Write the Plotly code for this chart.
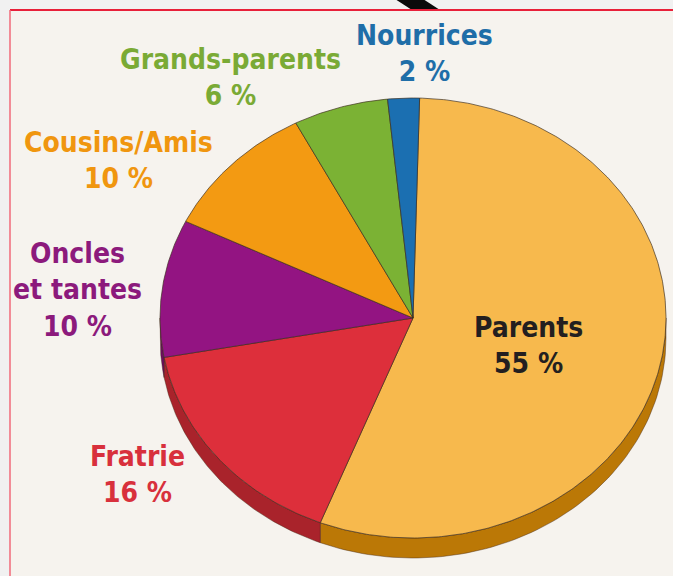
import numpy as np
import plotly.graph_objects as go

# Who looks after the children – share of answers
categories = ["Parents", "Fratrie", "Oncles et tantes", "Cousins/Amis", "Grands-parents", "Nourrices"]
values = [55, 16, 10, 10, 6, 2]
label_lines = ["Parents", "Fratrie", "Oncles<br>et tantes", "Cousins/Amis", "Grands-parents", "Nourrices"]

# Styling
top_colors = ["#f7b94d", "#dd2f3b", "#931482", "#f39a12", "#7bb234", "#1b6fb1"]
side_colors = ["#bb7806", "#a9232b", "#6c0e60", "#b8730c", "#5a8626", "#135385"]
text_colors = ["#231f20", "#d8303c", "#8c1a7c", "#f0960f", "#7aaa35", "#1f6ea8"]
label_pos = [(528, 345), (137, 474), (77, 290), (118, 160), (230, 77), (424, 53)]

W, H = 673, 576
CX, CY = 413, 318          # pie centre (pixels)
RX, RY = 253, 220          # ellipse radii of the tilted top face
DEPTH = 20                 # visible thickness of the disc
START = 1.5                # rotation of the first slice, degrees clockwise from 12 o'clock


def ellipse_pt(theta_deg, dy=0.0):
    t = np.radians(theta_deg)
    return CX + RX * np.sin(t), CY - RY * np.cos(t) + dy


total = float(sum(values))
bounds = START + 360.0 * np.concatenate([[0.0], np.cumsum(values)]) / total

fig = go.Figure()

# Side walls (only the front half of the disc, 90°..270°, is visible)
for i, v in enumerate(values):
    a0, a1 = bounds[i], bounds[i + 1]
    lo, hi = max(a0, 90.0), min(a1, 270.0)
    if hi <= lo:
        continue
    th = np.linspace(lo, hi, 80)
    xt, yt = ellipse_pt(th)
    xb, yb = ellipse_pt(th[::-1], DEPTH)
    fig.add_trace(go.Scatter(
        x=np.concatenate([xt, xb, xt[:1]]), y=np.concatenate([yt, yb, yt[:1]]),
        mode="lines", fill="toself", fillcolor=side_colors[i],
        line=dict(color="rgba(70,40,20,0.55)", width=0.8),
        hoverinfo="skip", showlegend=False))

# Top faces
for i, v in enumerate(values):
    th = np.linspace(bounds[i], bounds[i + 1], max(8, int(v * 6)))
    xa, ya = ellipse_pt(th)
    fig.add_trace(go.Scatter(
        x=np.concatenate([[CX], xa, [CX]]), y=np.concatenate([[CY], ya, [CY]]),
        mode="lines", fill="toself", fillcolor=top_colors[i],
        line=dict(color="rgba(60,45,30,0.75)", width=0.9),
        name=categories[i], text=f"{categories[i]} : {v} %", hoverinfo="text",
        showlegend=False))

# Slice labels
for i, v in enumerate(values):
    x, y = label_pos[i]
    fig.add_annotation(
        x=x, y=y, xref="x", yref="y", showarrow=False,
        text=f"<b>{label_lines[i]}<br>{v} %</b>", align="center",
        font=dict(family="Liberation Sans Narrow, DejaVu Sans Condensed, Arial Narrow, sans-serif",
                  size=28, color=text_colors[i]))

shapes = [
    # cream panel with red frame
    dict(type="rect", xref="x", yref="y", x0=10, y0=10, x1=W + 5, y1=H + 5,
         fillcolor="#f6f3ee", line=dict(width=0), layer="below"),
    # black pointer stroke at the top edge
    dict(type="path", xref="x", yref="y", path="M 395 -1 L 423 -1 L 440 10 L 412 10 Z",
         fillcolor="#0a0a0a", line=dict(width=0), layer="below"),
    dict(type="line", xref="x", yref="y", x0=10, y0=10, x1=W + 5, y1=10,
         line=dict(color="#e8203a", width=2), layer="above"),
    dict(type="line", xref="x", yref="y", x0=10, y0=10, x1=10, y1=H + 5,
         line=dict(color="#f06a7a", width=1.5), layer="above"),
]

fig.update_layout(
    width=W, height=H, margin=dict(l=0, r=0, t=0, b=0),
    paper_bgcolor="#f1f1f1", plot_bgcolor="rgba(0,0,0,0)",
    xaxis=dict(range=[0, W], visible=False, fixedrange=True),
    yaxis=dict(range=[H, 0], visible=False, fixedrange=True),
    shapes=shapes, showlegend=False,
)

fig.write_html("out.html")
